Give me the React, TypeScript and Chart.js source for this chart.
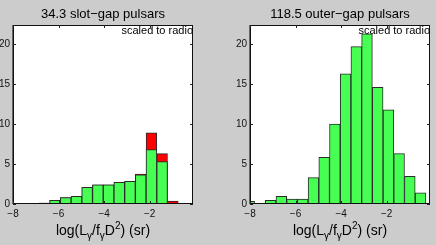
import React, { useEffect, useRef } from "react";
import { Chart, registerables } from "chart.js";

Chart.register(...registerables);

// Bin centres of log(Lγ/fγD²) histogram (bin width ≈ 0.47)
const binCenters = [-8.035, -7.565, -7.095, -6.625, -6.155, -5.685, -5.215, -4.745, -4.275, -3.805, -3.335, -2.865, -2.395, -1.925, -1.455, -0.985, -0.515];
// Slot-gap: green part and total (red shows above green)
const slotGapGreen = [0, 0, 0, 0.12, 0.45, 0.8, 0.95, 2.1, 2.4, 2.4, 2.7, 2.85, 3.65, 6.8, 5.3, 0, 0];
const slotGapTotal = [0, 0, 0, 0.12, 0.45, 0.8, 0.95, 2.1, 2.4, 2.4, 2.7, 2.85, 3.75, 8.9, 6.3, 0.35, 0];
// Outer-gap
const outerGapGreen = [0.33, 0, 0.45, 0.95, 0.62, 0.62, 3.3, 5.85, 10.0, 16.3, 19.7, 21.3, 14.6, 11.8, 6.3, 3.45, 1.4];

const xTicks = [-8, -6, -4, -2];
const yTicks = [0, 5, 10, 15, 20];
const titles = ["34.3 slot\u2212gap pulsars", "118.5 outer\u2212gap pulsars"];
const noteText = "scaled to radio";

const X_MIN = -8;
const X_MAX = -0.1;
const Y_MAX = 22.4;

const GREEN = "#46ff52";
const RED = "#ff0000";
const EDGE = "#2a2a2a";
const FONT = "'Liberation Sans', Arial, sans-serif";

const toPts = (vals: number[]) =>
  binCenters.map((x, i) => ({ x, y: vals[i] > 0 ? vals[i] : null }));

const decorPlugin = {
  id: "decor",
  beforeDraw(chart: any) {
    const { ctx, chartArea: a } = chart;
    ctx.save();
    ctx.fillStyle = "#ffffff";
    ctx.fillRect(a.left, a.top, a.right - a.left, a.bottom - a.top);
    ctx.restore();
  },
  afterDraw(chart: any, _args: any, opts: any) {
    const { ctx, chartArea: a } = chart;
    const xs = chart.scales.x;
    const ys = chart.scales.y;
    ctx.save();
    // frame
    ctx.strokeStyle = "#111";
    ctx.lineWidth = 1;
    ctx.strokeRect(a.left + 0.5, a.top + 0.5, a.right - a.left - 1, a.bottom - a.top - 1);
    ctx.strokeStyle = "#666";
    ctx.beginPath();
    ctx.moveTo(a.left - 0.5, a.top);
    ctx.lineTo(a.left - 0.5, a.bottom);
    ctx.stroke();
    // inward ticks
    ctx.strokeStyle = "#222";
    ctx.beginPath();
    const tl = 3;
    for (const v of yTicks) {
      const y = Math.round(ys.getPixelForValue(v)) + 0.5;
      ctx.moveTo(a.left, y);
      ctx.lineTo(a.left + tl, y);
      ctx.moveTo(a.right, y);
      ctx.lineTo(a.right - tl, y);
    }
    for (const v of xTicks) {
      const x = Math.round(xs.getPixelForValue(v)) + 0.5;
      ctx.moveTo(x, a.top);
      ctx.lineTo(x, a.top + tl);
      ctx.moveTo(x, a.bottom);
      ctx.lineTo(x, a.bottom - tl);
    }
    ctx.stroke();
    const cx = (a.left + a.right) / 2;
    // title
    ctx.fillStyle = "#000";
    ctx.font = `13px ${FONT}`;
    ctx.textAlign = "center";
    ctx.textBaseline = "alphabetic";
    ctx.fillText(opts.title, cx, 18);
    // note
    ctx.font = `11px ${FONT}`;
    ctx.textAlign = "right";
    ctx.fillText(noteText, a.right, 34);
    // axis label with sub/superscripts
    const parts: [string, number, number][] = [
      ["log(L", 14, 0],
      ["\u03b3", 10, 4],
      ["/f", 14, 0],
      ["\u03b3", 10, 4],
      ["D", 14, 0],
      ["2", 10, -6],
      [") (sr)", 14, 0],
    ];
    let total = 0;
    const widths = parts.map(([t, s]) => {
      ctx.font = `${s}px ${FONT}`;
      const w = ctx.measureText(t).width;
      total += w;
      return w;
    });
    let x = cx - total / 2;
    ctx.textAlign = "left";
    const base = 235;
    parts.forEach(([t, s, dy], i) => {
      ctx.font = `${s}px ${FONT}`;
      ctx.fillText(t, x, base + dy);
      x += widths[i];
    });
    ctx.restore();
  },
};

function makeConfig(datasets: any[], title: string, yWidth: number, rightPad: number): any {
  return {
    type: "bar",
    data: { datasets },
    plugins: [decorPlugin],
    options: {
      animation: false,
      responsive: false,
      maintainAspectRatio: false,
      layout: { padding: { top: 25, right: rightPad, bottom: 0, left: 0 } },
      datasets: { bar: { grouped: false, barPercentage: 1, categoryPercentage: 1 } },
      plugins: {
        legend: { display: false },
        tooltip: { enabled: false },
        title: { display: false },
        decor: { title },
      },
      scales: {
        x: {
          type: "linear",
          offset: false,
          min: X_MIN,
          max: X_MAX,
          grid: { display: false, drawTicks: false, tickLength: 0 },
          border: { display: false },
          afterBuildTicks: (s: any) => {
            s.ticks = xTicks.map((v) => ({ value: v }));
          },
          afterFit: (s: any) => {
            s.height = 41;
          },
          ticks: {
            padding: 4,
            maxRotation: 0,
            autoSkip: false,
            color: "#111",
            font: { family: FONT, size: 10 },
            callback: (v: any) => String(v).replace("-", "\u2212"),
          },
        },
        y: {
          type: "linear",
          min: 0,
          max: Y_MAX,
          grid: { display: false, drawTicks: false, tickLength: 0 },
          border: { display: false },
          afterBuildTicks: (s: any) => {
            s.ticks = yTicks.map((v) => ({ value: v }));
          },
          afterFit: (s: any) => {
            s.width = yWidth;
          },
          ticks: {
            padding: 3,
            color: "#111",
            font: { family: FONT, size: 10 },
          },
        },
      },
    },
  };
}

const barStyle = (color: string) => ({
  backgroundColor: color,
  borderColor: EDGE,
  borderWidth: 1,
  borderSkipped: "bottom",
  clip: 0,
});

export default function App() {
  const leftRef = useRef<HTMLCanvasElement>(null);
  const rightRef = useRef<HTMLCanvasElement>(null);

  useEffect(() => {
    const left = new Chart(
      leftRef.current!,
      makeConfig(
        [
          { label: "slot-gap", data: toPts(slotGapGreen), ...barStyle(GREEN) },
          { label: "slot-gap total", data: toPts(slotGapTotal), ...barStyle(RED) },
        ],
        titles[0],
        13,
        25
      )
    );
    const right = new Chart(
      rightRef.current!,
      makeConfig(
        [{ label: "outer-gap", data: toPts(outerGapGreen), ...barStyle(GREEN) }],
        titles[1],
        32,
        6
      )
    );
    return () => {
      left.destroy();
      right.destroy();
    };
  }, []);

  return (
    <div
      style={{
        position: "fixed",
        left: 0,
        top: 0,
        width: 436,
        height: 245,
        background: "#cccccc",
        overflow: "hidden",
      }}
    >
      <canvas ref={leftRef} width={218} height={245} style={{ position: "absolute", left: 0, top: 0, width: 218, height: 245 }} />
      <canvas ref={rightRef} width={218} height={245} style={{ position: "absolute", left: 218, top: 0, width: 218, height: 245 }} />
    </div>
  );
}
